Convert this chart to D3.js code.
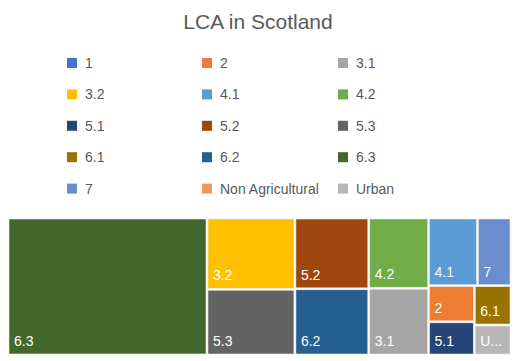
<!DOCTYPE html>
<html lang="en">
<head>
    <meta charset="UTF-8">
    <title>LCA in Scotland</title>
    <script src="https://d3js.org/d3.v7.min.js"></script>
</head>
<style>
    html,body {
        margin: 0;
        padding: 0;
        background: #fff;
    }
</style>
<body>
    <div id="svg"></div>
</body>
<script>
    // land capability classes (share of area, %)
    const categories = ['1', '2', '3.1', '3.2', '4.1', '4.2', '5.1', '5.2', '5.3', '6.1', '6.2', '6.3', '7', 'Non Agricultural', 'Urban'];
    const values = [0, 2.4, 5.8, 9.1, 4.8, 6.1, 2.2, 7.6, 8.4, 2.1, 7.1, 39.6, 3.3, 0, 1.6];
    const colors = ['#4472C4', '#ED7D31', '#A5A5A5', '#FFC000', '#5B9BD5', '#70AD47', '#264478', '#9E480E', '#636363', '#997300', '#255E91', '#43682B', '#698ED0', '#F1975A', '#B7B7B7'];

    const width = 517;
    const height = 361;
    const font = '"Liberation Sans", Arial, sans-serif';

    const svg = d3.select('#svg').append('svg')
        .attr('width', width)
        .attr('height', height);

    // title
    svg.append('text')
        .attr('x', 258)
        .attr('y', 29)
        .attr('text-anchor', 'middle')
        .attr('font-family', font)
        .attr('font-size', '21px')
        .attr('fill', '#595959')
        .text('LCA in Scotland');

    // legend, 3 columns
    const legendX = [67, 202, 338];
    const legendY = 63;
    const legendStep = 31.4;
    const legend = svg.selectAll('.legend').data(categories).enter().append('g')
        .attr('class', 'legend')
        .attr('transform', (d, i) => `translate(${legendX[i % 3]},${legendY + Math.floor(i / 3) * legendStep})`);
    legend.append('rect')
        .attr('x', 0)
        .attr('y', -5)
        .attr('width', 10)
        .attr('height', 10)
        .attr('fill', (d, i) => colors[i]);
    legend.append('text')
        .attr('x', 18)
        .attr('y', 5)
        .attr('font-family', font)
        .attr('font-size', '14px')
        .attr('fill', '#595959')
        .text(d => d);

    // treemap
    const area = {x: 8, y: 218, w: 503, h: 137};
    const root = d3.hierarchy({children: categories.map((c, i) => ({name: c, value: values[i], color: colors[i]}))})
        .sum(d => d.value || 0)
        .sort((a, b) => b.value - a.value);
    d3.treemap()
        .tile(d3.treemapSquarify.ratio(1.2))
        .size([area.w, area.h])(root);

    const leaves = root.leaves().filter(d => d.value > 0);
    const cell = svg.append('g')
        .attr('transform', `translate(${area.x},${area.y})`)
        .selectAll('g').data(leaves).enter().append('g');

    cell.append('rect')
        .attr('x', d => d.x0 + 1)
        .attr('y', d => d.y0 + 1)
        .attr('width', d => d.x1 - d.x0 - 2)
        .attr('height', d => d.y1 - d.y0 - 2)
        .attr('fill', d => d.data.color)
        .attr('stroke', '#e6e6e6')
        .attr('stroke-width', 0.6);

    cell.append('text')
        .attr('x', d => d.x0 + 6)
        .attr('y', d => d.y1 - 9)
        .attr('font-family', font)
        .attr('font-size', '14px')
        .attr('fill', '#fff')
        .text(d => d.data.name)
        .each(function(d) {
            // shorten labels that don't fit
            const maxW = d.x1 - d.x0 - 12;
            const t = d3.select(this);
            let s = d.data.name;
            while (this.getComputedTextLength() > maxW && s.length > 1) {
                s = s.slice(0, -1);
                t.text(s + '...');
            }
        });
</script>
</html>
